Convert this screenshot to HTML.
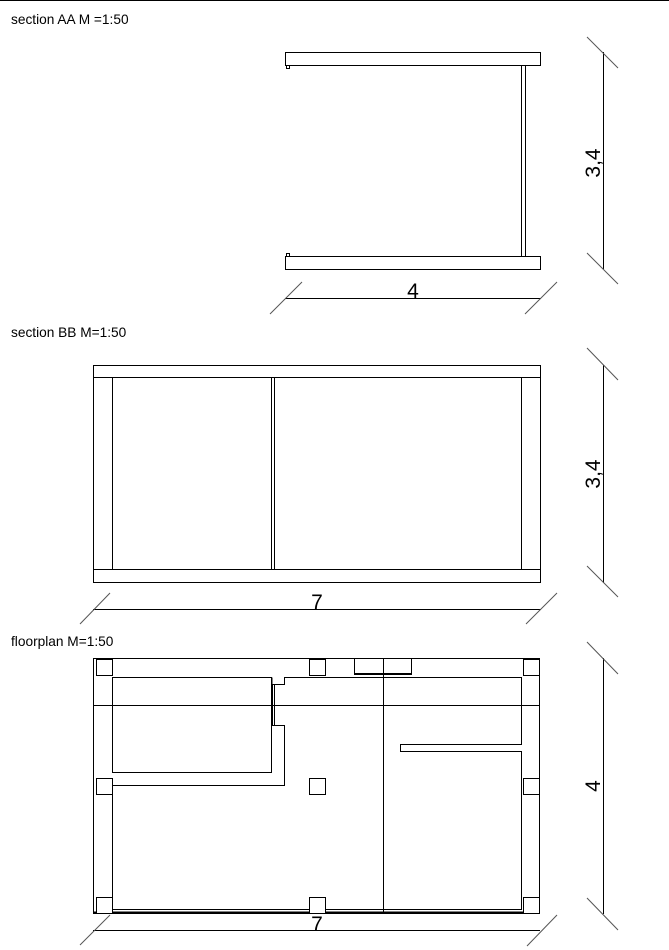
<!DOCTYPE html>
<html><head><style>body{margin:0;background:#fff}svg{display:block}text{font-family:"Liberation Sans",sans-serif}</style></head>
<body>
<svg width="669" height="950" viewBox="0 0 669 950" xmlns="http://www.w3.org/2000/svg">
<line x1="0" y1="0.5" x2="669" y2="0.5" stroke="#000"/>
<g font-size="13.7" fill="#000">
<text x="11" y="24">section AA M =1:50</text>
<text x="11" y="337">section BB M=1:50</text>
<text x="11" y="646">floorplan M=1:50</text>
</g>
<g fill="none" stroke="#000" stroke-width="1">
<rect x="285.5" y="52.5" width="255" height="13"/>
<rect x="285.5" y="256.5" width="255" height="13"/>
<rect x="521.5" y="65.5" width="4" height="191"/>
<rect x="286.5" y="65.5" width="3" height="3"/>
<rect x="286.5" y="253.5" width="3" height="3"/>
<line x1="285" y1="298.5" x2="541" y2="298.5"/>
<line x1="603.5" y1="52" x2="603.5" y2="269"/>
<rect x="93.5" y="365.5" width="447" height="217"/>
<line x1="93" y1="377.5" x2="541" y2="377.5"/>
<line x1="93" y1="569.5" x2="541" y2="569.5"/>
<line x1="112.5" y1="377" x2="112.5" y2="570"/>
<line x1="271.5" y1="377" x2="271.5" y2="570"/>
<line x1="274.5" y1="377" x2="274.5" y2="570"/>
<line x1="521.5" y1="377" x2="521.5" y2="570"/>
<line x1="93" y1="609.5" x2="541" y2="609.5"/>
<line x1="603.5" y1="365" x2="603.5" y2="583"/>
<rect x="93.5" y="658.5" width="446" height="255"/>
<line x1="93" y1="912.5" x2="540" y2="912.5" stroke-width="2"/>
<line x1="93" y1="705.5" x2="540" y2="705.5"/>
<line x1="383.5" y1="658" x2="383.5" y2="914"/>
<rect x="354.5" y="658.5" width="57" height="16"/>
<line x1="354" y1="673.5" x2="412" y2="673.5"/>
<rect x="112.5" y="677.5" width="159" height="95"/>
<polyline points="272,677.5 272,684.5 284.5,684.5 284.5,677.5 521.5,677.5 521.5,744.5 400.5,744.5 400.5,751.5 521.5,751.5 521.5,909.5 112.5,909.5 112.5,785.5 284.5,785.5 284.5,725.5 272,725.5"/>
<line x1="272.5" y1="684" x2="272.5" y2="725"/>
<line x1="274.5" y1="684" x2="274.5" y2="725"/>
<g fill="#fff">
<rect x="96.5" y="659.5" width="16" height="16"/>
<rect x="309.5" y="659.5" width="16" height="16"/>
<rect x="523.5" y="659.5" width="16" height="16"/>
<rect x="96.5" y="778.5" width="16" height="16"/>
<rect x="309.5" y="778.5" width="16" height="16"/>
<rect x="523.5" y="778.5" width="16" height="16"/>
<rect x="96.5" y="897.5" width="16" height="16"/>
<rect x="309.5" y="897.5" width="16" height="16"/>
<rect x="523.5" y="897.5" width="16" height="16"/>
</g>
<line x1="93" y1="930.5" x2="540" y2="930.5"/>
<line x1="603.5" y1="658" x2="603.5" y2="914"/>
</g>
<g stroke="#555" stroke-width="1">
<line x1="270" y1="314" x2="302" y2="282"/>
<line x1="525" y1="314" x2="557" y2="282"/>
<line x1="587" y1="37" x2="618" y2="68"/>
<line x1="587" y1="253" x2="618" y2="284"/>
<line x1="80" y1="624" x2="110" y2="593"/>
<line x1="526" y1="624" x2="557" y2="593"/>
<line x1="587" y1="348" x2="618" y2="380"/>
<line x1="587" y1="566" x2="618" y2="597"/>
<line x1="80" y1="945" x2="110" y2="915"/>
<line x1="527" y1="946" x2="557" y2="915"/>
<line x1="587" y1="642" x2="618" y2="674"/>
<line x1="587" y1="898" x2="618" y2="930"/>
</g>
<g font-size="21" fill="#000" text-anchor="middle">
<text x="413" y="298">4</text>
<text x="317" y="609">7</text>
<text x="317" y="931">7</text>
<text transform="translate(600,163) rotate(-90)">3,4</text>
<text transform="translate(600,474) rotate(-90)">3,4</text>
<text transform="translate(600,786) rotate(-90)">4</text>
</g>
</svg>
</body></html>
